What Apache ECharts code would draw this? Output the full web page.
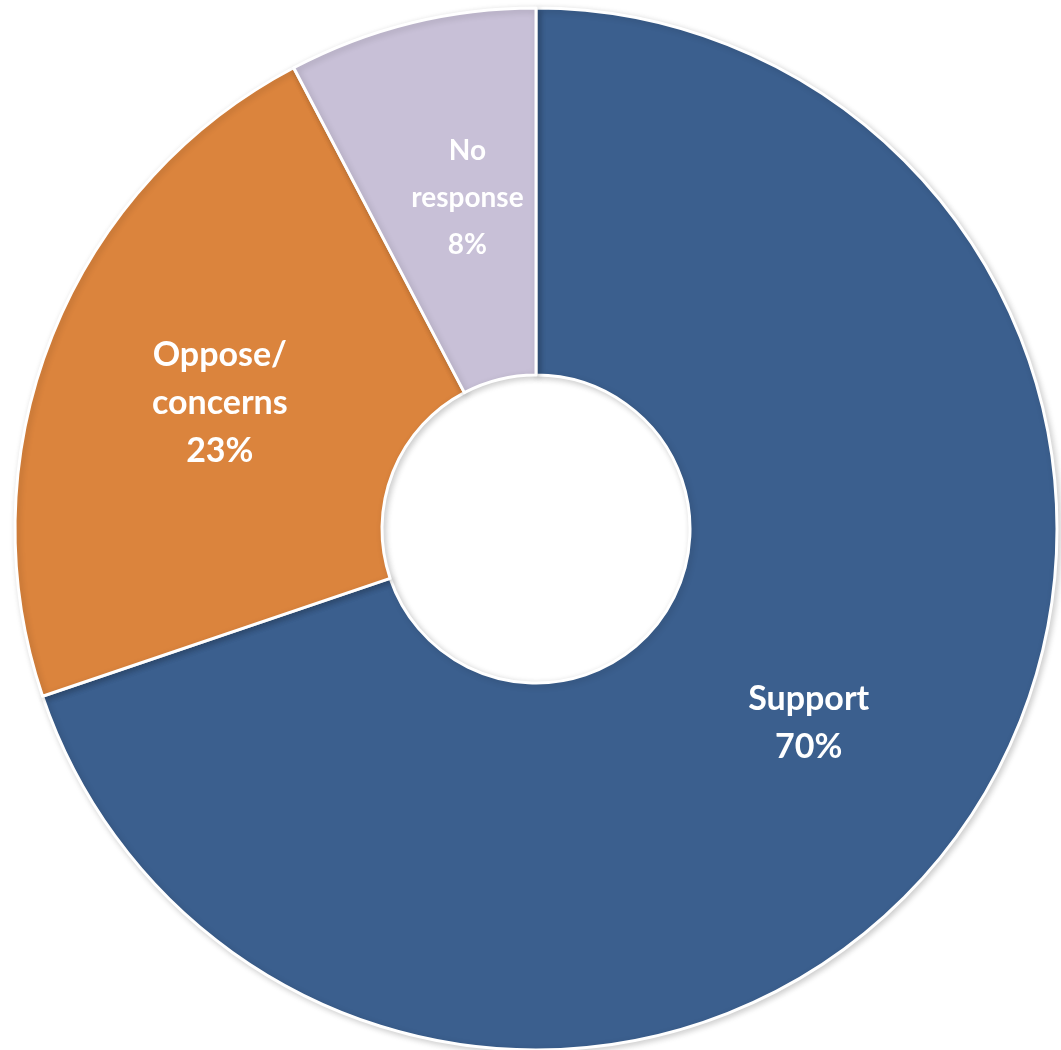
<!DOCTYPE html>
<html>
<head>
<meta charset="utf-8">
<script src="https://cdn.jsdelivr.net/npm/echarts@6/dist/echarts.min.js"></script>
<style>
html,body{margin:0;padding:0;background:#fff;}
#chart{width:1061px;height:1050px;}
</style>
</head>
<body>
<div id="chart"></div>
<script>
const categories = ["Support", "Oppose/\nconcerns", "No\nresponse"];
const values = [69.8, 22.5, 7.7];
const percentLabels = ["70%", "23%", "8%"];
const colors = ["#3B5F8E", "#DB843D", "#C8C0D7"];

const chart = echarts.init(document.getElementById('chart'));
chart.setOption({
  backgroundColor: '#ffffff',
  animation: false,
  series: [{
    type: 'pie',
    center: [536, 529],
    radius: [154, 521],
    startAngle: 90,
    clockwise: true,
    avoidLabelOverlap: false,
    itemStyle: {
      borderColor: '#ffffff',
      borderWidth: 3,
      shadowColor: 'rgba(0,0,0,0.18)',
      shadowBlur: 6,
      shadowOffsetX: 2,
      shadowOffsetY: 2
    },
    label: {
      show: true,
      position: 'inside',
      color: '#ffffff',
      fontFamily: 'Lato',
      fontWeight: 'bold',
      fontSize: 34,
      lineHeight: 48,
      align: 'center',
      formatter: function (p) { return p.name + '\n' + percentLabels[p.dataIndex]; }
    },
    labelLine: { show: false },
    data: categories.map((c, i) => ({
      name: c,
      value: values[i],
      itemStyle: { color: colors[i] },
      label: i === 2 ? { offset: [13, 0], fontSize: 28, lineHeight: 47 } : (i === 0 ? { offset: [-4, -4] } : {})
    }))
  }]
});
</script>
</body>
</html>
